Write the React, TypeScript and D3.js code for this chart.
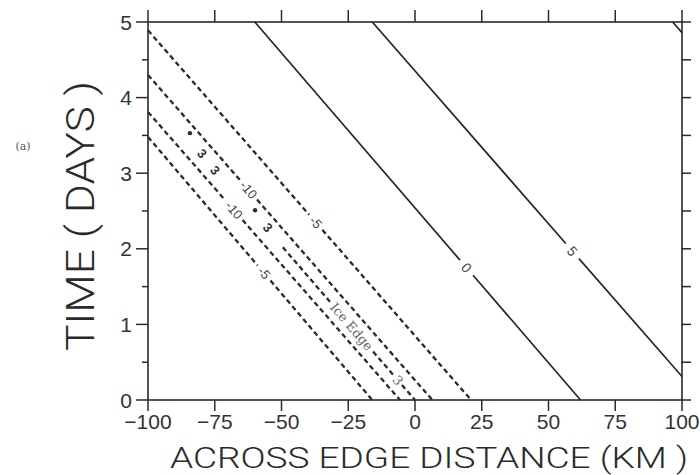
import React from 'react';
import * as d3 from 'd3';

// ---- data ----
const xTicks = [-100, -75, -50, -25, 0, 25, 50, 75, 100];
const xTickLabels = ['\u2212100', '\u221275', '\u221250', '\u221225', '0', '25', '50', '75', '100'];
const yTicks = [0, 1, 2, 3, 4, 5];
const yTickLabels = ['0', '1', '2', '3', '4', '5'];
const yMinorTicks = [0.5, 1.5, 2.5, 3.5, 4.5];
const rightTicks = [0.5, 1, 1.5, 2, 2.5, 3, 3.5, 4, 4.5];

// contour lines as [distance km, time days] end points
const contour0 = [[-60, 5], [62, 0]];
const contour5 = [[-16, 5], [100, 0.31]];
const contourCorner = [[96.5, 5], [100, 4.86]];
const contourM5a = [[-100, 4.89], [21, 0]];
const contourM10a = [[-100, 4.3], [6.5, 0]];
const iceEdge = [[-49.5, 2.02], [0, 0]];
const contourM10b = [[-100, 3.81], [-5.6, 0]];
const contourM5b = [[-100, 3.48], [-16, 0]];

// labels: [text, time(days) position along the line, half gap px]
const labels0 = [['0', 1.75, 10]];
const labels5 = [['5', 1.97, 10]];
const labelsM5a = [['-5', 2.35, 10]];
const labelsM10a = [['-10', 2.78, 13]];
const labelsIce = [['Ice Edge', 0.97, 33], ['3', 0.26, 6]];
const labelsM10b = [['-10', 2.51, 13]];
const labelsM5b = [['-5', 1.68, 10]];

// sparse markers on the upper part of the ice edge
const iceDots = [[-84.3, 3.53], [-59.9, 2.51]];
const iceSymbols = [[-79.8, 3.26], [-74.9, 3.04], [-55.1, 2.28]];

const W = 700, H = 475;
const x = d3.scaleLinear().domain([-100, 100]).range([148, 682]);
const y = d3.scaleLinear().domain([0, 5]).range([400, 22]);

type P = number[];

function xAtT(pts: P[], t: number) {
  const [a, b] = pts;
  const f = (t - a[1]) / (b[1] - a[1]);
  return a[0] + f * (b[0] - a[0]);
}

function buildLine(pts: P[], labels: any[]) {
  const p0 = [x(pts[0][0]), y(pts[0][1])];
  const p1 = [x(pts[1][0]), y(pts[1][1])];
  const dx = p1[0] - p0[0], dy = p1[1] - p0[1];
  const len = Math.hypot(dx, dy);
  const u = [dx / len, dy / len];
  const angle = (Math.atan2(dy, dx) * 180) / Math.PI;
  const cuts = labels
    .map((l) => {
      const cx = x(xAtT(pts, l[1])), cy = y(l[1]);
      const s = (cx - p0[0]) * u[0] + (cy - p0[1]) * u[1];
      return { s, g: l[2], text: l[0], cx, cy };
    })
    .sort((a, b) => a.s - b.s);
  const segs: P[][] = [];
  let start = 0;
  cuts.forEach((c) => {
    segs.push([start, c.s - c.g]);
    start = c.s + c.g;
  });
  segs.push([start, len]);
  const segPts = segs
    .filter((s) => s[1] > s[0])
    .map((s) => [
      [p0[0] + u[0] * s[0], p0[1] + u[1] * s[0]],
      [p0[0] + u[0] * s[1], p0[1] + u[1] * s[1]],
    ]);
  return { segPts, cuts, angle };
}

const lineGen = d3.line();

function Contour({ pts, labels, dashed, font, fill, size }: any) {
  const { segPts, cuts, angle } = buildLine(pts, labels);
  return (
    <g>
      {segPts.map((s: any, i: number) => (
        <path
          key={i}
          d={lineGen(s as any) || ''}
          fill="none"
          stroke={dashed ? '#2b2b2b' : '#262626'}
          strokeWidth={dashed ? 2.3 : 1.7}
          strokeDasharray={dashed ? '5 3.4' : undefined}
        />
      ))}
      {cuts.map((c: any, i: number) => (
        <text
          key={'t' + i}
          x={c.cx}
          y={c.cy}
          transform={`rotate(${angle} ${c.cx} ${c.cy})`}
          textAnchor="middle"
          dominantBaseline="central"
          fontFamily={font}
          fontSize={size}
          fill={fill}
        >
          {c.text}
        </text>
      ))}
    </g>
  );
}

export default function App() {
  const font = '"Liberation Sans", Arial, sans-serif';
  const titleFont = 'Roboto, "Liberation Sans", sans-serif';
  const iceAngle = buildLine(iceEdge, []).angle;
  return (
    <svg
      width={W}
      height={H}
      viewBox={`0 0 ${W} ${H}`}
      style={{ position: 'absolute', left: 0, top: 0, background: '#fff' }}
    >
      <rect x={0} y={0} width={W} height={H} fill="#fff" />
      {/* frame */}
      <rect
        x={x(-100)}
        y={y(5)}
        width={x(100) - x(-100)}
        height={y(0) - y(5)}
        fill="none"
        stroke="#2a2a2a"
        strokeWidth={1.6}
      />
      {/* bottom & top ticks */}
      {xTicks.map((v) => (
        <g key={'xt' + v}>
          <line x1={x(v)} x2={x(v)} y1={y(0)} y2={y(0) + 11} stroke="#2a2a2a" strokeWidth={1.5} />
          <line x1={x(v)} x2={x(v)} y1={y(5)} y2={y(5) - 12} stroke="#2a2a2a" strokeWidth={1.5} />
        </g>
      ))}
      {xTicks.map((v, i) => (
        <text
          key={'xl' + v}
          x={x(v)}
          y={429}
          textAnchor="middle"
          fontFamily={font}
          fontSize={21}
          fill="#333"
        >
          {xTickLabels[i]}
        </text>
      ))}
      {/* left ticks */}
      {yTicks.map((v) => (
        <line key={'yt' + v} x1={x(-100) - 12} x2={x(-100)} y1={y(v)} y2={y(v)} stroke="#2a2a2a" strokeWidth={1.5} />
      ))}
      {yMinorTicks.map((v) => (
        <line key={'ym' + v} x1={x(-100) - 6} x2={x(-100)} y1={y(v)} y2={y(v)} stroke="#2a2a2a" strokeWidth={1.5} />
      ))}
      {yTicks.map((v, i) => (
        <text
          key={'yl' + v}
          x={132}
          y={y(v) + 7.5}
          textAnchor="end"
          fontFamily={font}
          fontSize={21}
          fill="#333"
        >
          {yTickLabels[i]}
        </text>
      ))}
      {/* right ticks */}
      {[0, ...rightTicks, 5].map((v) => (
        <line key={'rt' + v} x1={x(100)} x2={x(100) + 9} y1={y(v)} y2={y(v)} stroke="#2a2a2a" strokeWidth={1.5} />
      ))}

      {/* contours */}
      <Contour pts={contour0} labels={labels0} dashed={false} font={font} fill="#444" size={14} />
      <Contour pts={contour5} labels={labels5} dashed={false} font={font} fill="#444" size={14} />
      <Contour pts={contourCorner} labels={[]} dashed={false} font={font} fill="#444" size={13} />
      <Contour pts={contourM5a} labels={labelsM5a} dashed={true} font={font} fill="#444" size={13} />
      <Contour pts={contourM10a} labels={labelsM10a} dashed={true} font={font} fill="#444" size={13} />
      <Contour pts={iceEdge} labels={labelsIce} dashed={true} font={'"DejaVu Serif", serif'} fill="#666" size={13} />
      <Contour pts={contourM10b} labels={labelsM10b} dashed={true} font={font} fill="#444" size={13} />
      <Contour pts={contourM5b} labels={labelsM5b} dashed={true} font={font} fill="#444" size={13} />

      {iceDots.map((p, i) => (
        <circle key={'d' + i} cx={x(p[0])} cy={y(p[1])} r={2.2} fill="#2b2b2b" />
      ))}
      {iceSymbols.map((p, i) => (
        <text
          key={'s' + i}
          x={x(p[0])}
          y={y(p[1])}
          transform={`rotate(${iceAngle} ${x(p[0])} ${y(p[1])})`}
          textAnchor="middle"
          dominantBaseline="central"
          fontFamily={font}
          fontWeight="bold"
          fontSize={13}
          fill="#333"
        >
          3
        </text>
      ))}

      {/* axis titles */}
      <text
        x={170}
        y={468}
        fontFamily={titleFont}
        fontWeight={300}
        fontSize={30}
        textLength={518}
        lengthAdjust="spacingAndGlyphs"
        fill="#2a2a2a"
      >
        ACROSS EDGE DISTANCE (KM )
      </text>
      <text
        transform={`translate(94,216) rotate(-90)`}
        textAnchor="middle"
        fontFamily={titleFont}
        fontWeight={300}
        fontSize={38}
        textLength={270}
        lengthAdjust="spacingAndGlyphs"
        fill="#2a2a2a"
      >
        TIME ( DAYS )
      </text>
      <text x={23} y={150} textAnchor="middle" fontFamily={'"DejaVu Serif", serif'} fontSize={11} fill="#555">
        (a)
      </text>
    </svg>
  );
}
